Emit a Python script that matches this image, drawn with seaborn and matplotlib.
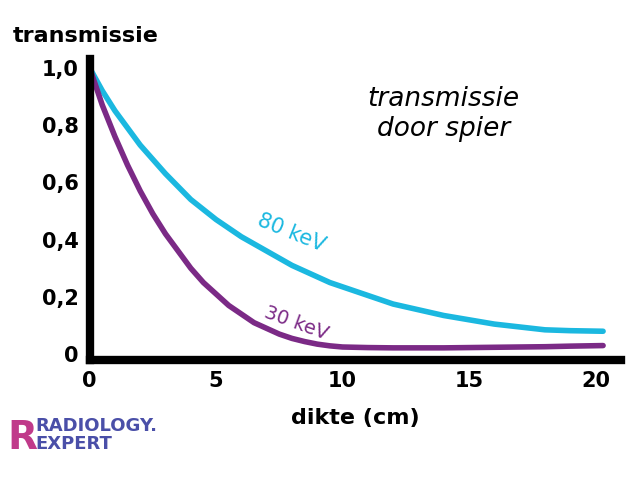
import matplotlib
matplotlib.use("Agg")
import matplotlib.pyplot as plt
import seaborn as sns
import pandas as pd

dikte = [0, 0.5, 1, 1.5, 2, 2.5, 3, 3.5, 4, 4.5, 5, 5.5, 6, 6.5, 7, 7.5, 8, 8.5, 9, 9.5,
         10, 11, 12, 13, 14, 15, 16, 17, 18, 19, 20.3]
t80 = [1.0, 0.92, 0.85, 0.79, 0.73, 0.68, 0.63, 0.585, 0.54, 0.505, 0.47, 0.44, 0.41,
       0.385, 0.36, 0.335, 0.31, 0.29, 0.27, 0.25, 0.235, 0.205, 0.175, 0.155, 0.135,
       0.12, 0.105, 0.095, 0.085, 0.082, 0.08]
t30 = [1.0, 0.87, 0.76, 0.66, 0.57, 0.49, 0.42, 0.36, 0.30, 0.25, 0.21, 0.17, 0.14,
       0.11, 0.09, 0.07, 0.055, 0.044, 0.035, 0.029, 0.025, 0.023, 0.022, 0.022, 0.022,
       0.023, 0.024, 0.025, 0.026, 0.028, 0.03]
xticks = [0, 5, 10, 15, 20]
yticks = [0, 0.2, 0.4, 0.6, 0.8, 1.0]
ylabels = ["0", "0,2", "0,4", "0,6", "0,8", "1,0"]

df = pd.DataFrame({"dikte": dikte * 2, "transmissie": t80 + t30,
                   "energie": ["80 keV"] * len(dikte) + ["30 keV"] * len(dikte)})

sns.set_style("white")
plt.rcParams["font.family"] = ["Verdana", "DejaVu Sans"]
plt.rcParams["text.color"] = "black"
plt.rcParams["xtick.color"] = "black"
plt.rcParams["ytick.color"] = "black"
fig = plt.figure(figsize=(6.4, 4.93), dpi=100)
ax = fig.add_axes([0.14, 0.27, 0.83, 0.61])
sns.lineplot(data=df, x="dikte", y="transmissie", hue="energie",
             palette={"80 keV": "#1bb8e0", "30 keV": "#7b2a86"},
             linewidth=4, legend=False, ax=ax)
ax.set_xlim(0, 21)
ax.set_ylim(-0.02, 1.03)
ax.set_xticks(xticks)
ax.set_yticks(yticks)
ax.set_yticklabels(ylabels)
ax.tick_params(labelsize=15, length=0, pad=8)
for t in ax.get_xticklabels() + ax.get_yticklabels():
    t.set_fontweight("bold")
for s in ["top", "right"]:
    ax.spines[s].set_visible(False)
for s in ["left", "bottom"]:
    ax.spines[s].set_linewidth(6)
    ax.spines[s].set_color("black")
ax.set_xlabel("dikte (cm)", fontsize=16, fontweight="bold", labelpad=12, color="black")
ax.set_ylabel("")
fig.text(0.02, 0.915, "transmissie", fontsize=16, fontweight="bold")
ax.text(14, 0.76, "transmissie\ndoor spier", fontsize=19, style="italic",
        ha="center", linespacing=1.2)
ax.text(6.5, 0.36, "80 keV", fontsize=15, color="#1bb8e0", rotation=-22)
ax.text(6.8, 0.05, "30 keV", fontsize=14, color="#7b2a86", rotation=-20)
fig.text(0.055, 0.09, "RADIOLOGY.\nEXPERT", fontsize=13, fontweight="bold",
         color="#4a4fa8", linespacing=0.95)
fig.text(0.012, 0.09, "R", fontsize=28, fontweight="bold", color="#c03a8a")
fig.savefig("out.png", dpi=100)
